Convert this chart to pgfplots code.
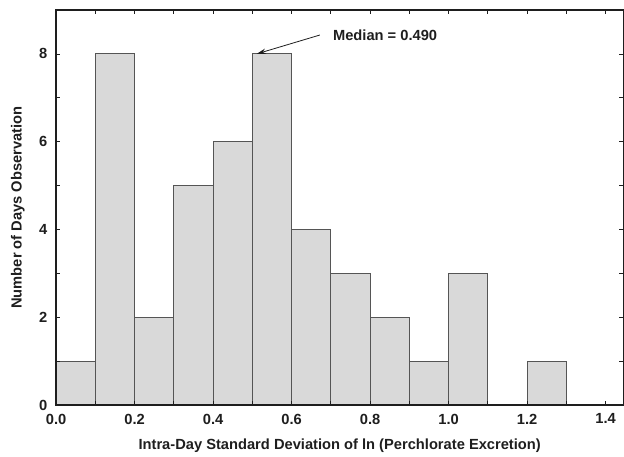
\documentclass[border=0pt]{standalone}
\usepackage{pgfplots}
\pgfplotsset{compat=1.18}
\usepackage{fontspec}
\setmainfont{Liberation Sans}
\usetikzlibrary{arrows.meta}
\definecolor{barfill}{RGB}{217,217,217}
\definecolor{baredge}{RGB}{85,85,85}
\definecolor{frame}{RGB}{30,30,30}

\begin{document}
\begin{tikzpicture}
\begin{axis}[scale only axis,width=425pt,height=296pt,
  xmin=0,xmax=1.445,ymin=0,ymax=9,
  axis on top,
  xtick={0,0.2,...,1.4},minor xtick={0.1,0.3,...,1.3},
  ytick={0,2,4,6,8},minor ytick={1,3,5,7},
  tick align=inside,major tick length=3pt,minor tick length=3pt,
  every tick/.style={frame,line width=0.6pt},
  axis line style={frame,line width=1pt},
  /pgf/number format/assume math mode=true,
  x tick label style={yshift=-3pt},
  y tick label style={xshift=-3pt},
  xticklabel={\pgfmathprintnumber[fixed,fixed zerofill,precision=1]{\tick}},
  tick label style={font=\bfseries\fontsize{11}{13}\selectfont,text=frame},
  label style={font=\bfseries\fontsize{11}{13}\selectfont,text=frame},
  xlabel={Intra-Day Standard Deviation of ln (Perchlorate Excretion)},
  ylabel={Number of Days Observation},
  xlabel style={yshift=-4pt},ylabel style={yshift=4pt},
  clip=false]
% bins of width 0.1; the 1.1-1.2 bin is empty
\addplot[ybar interval,fill=barfill,draw=baredge,line width=0.8pt] coordinates {
  (0.0,1)(0.1,8)(0.2,2)(0.3,5)(0.4,6)(0.5,8)(0.6,4)(0.7,3)(0.8,2)(0.9,1)(1.0,3)(1.1,3)};
\addplot[ybar interval,fill=barfill,draw=baredge,line width=0.8pt] coordinates {
  (1.2,1)(1.3,1)};
\draw[-{Stealth[length=7pt,width=4pt]},line width=0.6pt,frame] (axis cs:0.672,8.43) -- (axis cs:0.511,8.0);
\node[anchor=west,font=\bfseries\fontsize{11}{13}\selectfont,text=frame,inner sep=0pt] at (axis cs:0.705,8.43) {Median = 0.490};
\path (rel axis cs:0,1) ++(0,7.5pt);
\path (rel axis cs:0,0.5) ++(-42pt,0);
\end{axis}
\end{tikzpicture}
\end{document}
